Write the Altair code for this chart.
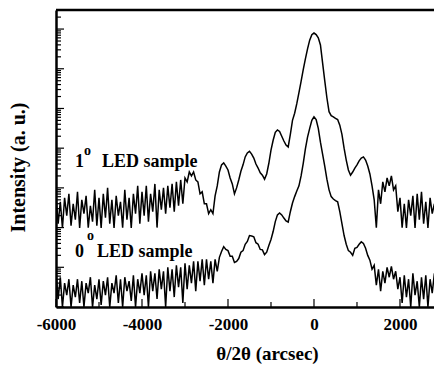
import altair as alt
import pandas as pd

# x grid (arcsec): every 50 arcsec from -6000 to 3000
X_START, X_STEP = -6000, 50

# log10 intensity, 1 deg LED sample (upper curve)
upper_log = [
    2.80, 2.10, 2.65, 1.99, 2.75, 2.30, 2.85, 2.05, 2.60, 2.20, 2.90, 1.99, 2.70, 2.35, 2.80, 2.00, 2.55, 2.15, 2.95, 2.05,
    2.75, 1.99, 2.85, 2.25, 3.00, 2.10, 2.70, 1.99, 2.80, 2.30, 2.65, 2.00, 2.95, 2.20, 2.75, 1.99, 2.85, 2.35, 3.05, 2.10,
    2.90, 2.30, 3.05, 2.15, 2.85, 2.40, 3.10, 2.00, 2.95, 2.45, 3.00, 2.35, 3.05, 2.50, 3.10, 2.40, 3.15, 2.55, 3.20, 2.60,
    3.25, 3.15, 3.40, 3.30, 3.40, 3.20, 3.15, 2.85, 2.90, 2.60, 2.60, 2.35, 2.45, 2.35, 2.80, 3.05, 3.40, 3.58, 3.63, 3.55,
    3.45, 3.25, 3.10, 2.85, 3.00, 3.20, 3.42, 3.58, 3.78, 3.88, 3.92, 3.85, 3.75, 3.60, 3.50, 3.38, 3.32, 3.22, 3.35, 3.62,
    3.95, 4.20, 4.40, 4.46, 4.42, 4.30, 4.18, 4.08, 4.03, 4.35, 4.70, 4.88, 5.12, 5.40, 5.68, 5.98, 6.25, 6.50, 6.72, 6.86,
    6.90, 6.86, 6.78, 6.60, 6.15, 5.70, 5.27, 4.92, 4.82, 4.79, 4.75, 4.72, 4.58, 4.35, 4.00, 3.70, 3.45, 3.32, 3.40, 3.50,
    3.58, 3.68, 3.75, 3.78, 3.70, 3.55, 3.35, 3.05, 2.70, 2.00, 2.95, 2.60, 3.15, 2.90, 3.25, 3.05, 3.30, 2.95, 3.05, 2.40,
    2.75, 2.00, 2.60, 1.99, 2.70, 2.30, 2.80, 1.99, 2.85, 2.20, 2.90, 2.10, 2.65, 1.99, 2.75, 2.35, 2.60, 1.99, 2.70, 2.05,
    2.50,
]

# log10 intensity, 0 deg LED sample (lower curve)
lower_log = [
    0.90, 0.20, 0.75, 0.00, 0.60, 0.30, 0.70, 0.00, 0.55, 0.25, 0.70, 0.10, 0.65, 0.00, 0.60, 0.35, 0.75, 0.00, 0.55, 0.20,
    0.70, 0.05, 0.65, 0.30, 0.75, 0.00, 0.60, 0.35, 0.80, 0.10, 0.70, 0.00, 0.75, 0.40, 0.65, 0.15, 0.80, 0.00, 0.70, 0.35,
    0.85, 0.30, 0.80, 0.00, 0.90, 0.40, 0.85, 0.20, 0.95, 0.45, 0.90, 0.00, 1.00, 0.40, 0.95, 0.25, 1.05, 0.50, 1.00, 0.10,
    1.10, 0.45, 1.05, 0.60, 1.15, 0.40, 1.15, 0.65, 1.20, 0.55, 1.20, 0.70, 1.15, 0.60, 1.20, 0.90, 1.25, 1.40, 1.52, 1.45,
    1.42, 1.28, 1.28, 1.12, 1.15, 1.22, 1.38, 1.42, 1.58, 1.65, 1.80, 1.79, 1.77, 1.62, 1.58, 1.45, 1.44, 1.32, 1.38, 1.55,
    1.70, 1.90, 2.15, 2.32, 2.37, 2.32, 2.24, 2.17, 2.14, 2.40, 2.62, 2.78, 2.92, 3.05, 3.30, 3.62, 3.98, 4.28, 4.50, 4.70,
    4.79, 4.72, 4.50, 4.15, 3.85, 3.55, 3.22, 2.95, 2.78, 2.72, 2.68, 2.65, 2.40, 2.10, 1.80, 1.58, 1.42, 1.38, 1.30, 1.48,
    1.50, 1.58, 1.64, 1.60, 1.48, 1.30, 1.18, 0.95, 1.05, 0.55, 0.95, 0.40, 0.90, 0.60, 1.00, 0.75, 1.02, 0.70, 0.90, 0.45,
    0.75, 0.10, 0.80, 0.25, 0.70, 0.00, 0.85, 0.30, 0.65, 0.00, 0.75, 0.20, 0.80, 0.00, 0.70, 0.35, 0.85, 0.05, 0.60, 0.00,
    0.50,
]

x_labels = [-6000, -4000, -2000, 0, 2000]
x_minor = [-5000, -3000, -1000, 1000]
y_major = [10 ** n for n in range(0, 8)]
y_minor = [k * 10 ** n for n in range(0, 8) for k in range(2, 10) if k * 10 ** n <= 3e7]

# annotation texts (x in arcsec, y as log10 intensity)
ann_text = ["1", "o", "LED sample", "0", "o", "LED sample"]
ann_x = [-5558, -5349, -4930, -5558, -5279, -5047]
ann_log = [3.526, 3.83, 3.526, 1.26, 1.69, 1.26]
ann_size = [18, 14, 18, 18, 14, 18]

X_DOMAIN = [-6000, 2791]
Y_DOMAIN = [1, 10 ** 7.48]
FONT = "Liberation Serif"
W, H = 378, 297

rows = []
for name, vals in (("1deg", upper_log), ("0deg", lower_log)):
    for i, v in enumerate(vals):
        rows.append({"x": X_START + X_STEP * i, "I": 10 ** v, "series": name})
df = pd.DataFrame(rows)

xs = alt.Scale(domain=X_DOMAIN, nice=False, zero=False)
ys = alt.Scale(type="log", domain=Y_DOMAIN, nice=False)

xaxis = alt.Axis(
    values=x_labels,
    labelExpr="'' + datum.value",
    ticks=False,
    grid=False,
    domainWidth=2.5,
    domainColor="black",
    labelFont=FONT,
    labelFontSize=17,
    labelFontWeight="bold",
    labelColor="black",
    labelPadding=9,
    labelFlush=False,
    labelOverlap=False,
    title="θ/2θ (arcsec)",
    titleFont=FONT,
    titleFontSize=19,
    titleFontWeight="bold",
    titleColor="black",
    titleX=211,
    titleY=46,
    titleAlign="center",
    titleBaseline="middle",
)
yaxis = alt.Axis(
    labels=False,
    ticks=False,
    grid=False,
    domainWidth=2.5,
    domainColor="black",
    title="Intensity (a. u.)",
    titleFont=FONT,
    titleFontSize=20,
    titleFontWeight="bold",
    titleColor="black",
    titleX=-38,
    titleY=157,
    titleAngle=270,
    titleAlign="center",
    titleBaseline="middle",
)

X = lambda f: alt.X(f, scale=xs, axis=xaxis)
Y = lambda f: alt.Y(f, scale=ys, axis=yaxis)

lines = alt.Chart(df).mark_line(color="black", strokeWidth=1.5, clip=True).encode(
    x=X("x:Q"), y=Y("I:Q"), detail="series:N"
)

ymaj = alt.Chart(pd.DataFrame({"I": y_major})).mark_rule(color="black", strokeWidth=1.2).encode(
    y=Y("I:Q"), x=alt.value(0), x2=alt.value(8)
)
ymin = alt.Chart(pd.DataFrame({"I": y_minor})).mark_rule(color="black", strokeWidth=1.2).encode(
    y=Y("I:Q"), x=alt.value(0), x2=alt.value(5)
)
xmaj = alt.Chart(pd.DataFrame({"x": x_labels})).mark_rule(color="black", strokeWidth=1.2).encode(
    x=X("x:Q"), y=alt.value(H), y2=alt.value(H - 8)
)
xmin = alt.Chart(pd.DataFrame({"x": x_minor})).mark_rule(color="black", strokeWidth=1.2).encode(
    x=X("x:Q"), y=alt.value(H), y2=alt.value(H - 5)
)
top = alt.Chart(pd.DataFrame({"a": [0]})).mark_rule(color="black", strokeWidth=2.5).encode(
    x=alt.value(0), x2=alt.value(W), y=alt.value(0)
)

ann = pd.DataFrame({"t": ann_text, "x": ann_x, "I": [10 ** v for v in ann_log], "s": ann_size})
texts = alt.Chart(ann).mark_text(
    font=FONT, fontWeight="bold", align="left", baseline="alphabetic", color="black"
).encode(
    x=X("x:Q"),
    y=Y("I:Q"),
    text="t:N",
    size=alt.Size("s:Q", scale=None, legend=None),
)

chart = (
    alt.layer(lines, ymaj, ymin, xmaj, xmin, top, texts)
    .properties(
        width=W,
        height=H,
        padding={"left": 48, "top": 2, "right": 0, "bottom": 57},
        autosize=alt.AutoSizeParams(type="none"),
    )
    .configure_view(strokeOpacity=0)
)

chart.save("out.html", embed_options={"renderer": "svg", "actions": False})
